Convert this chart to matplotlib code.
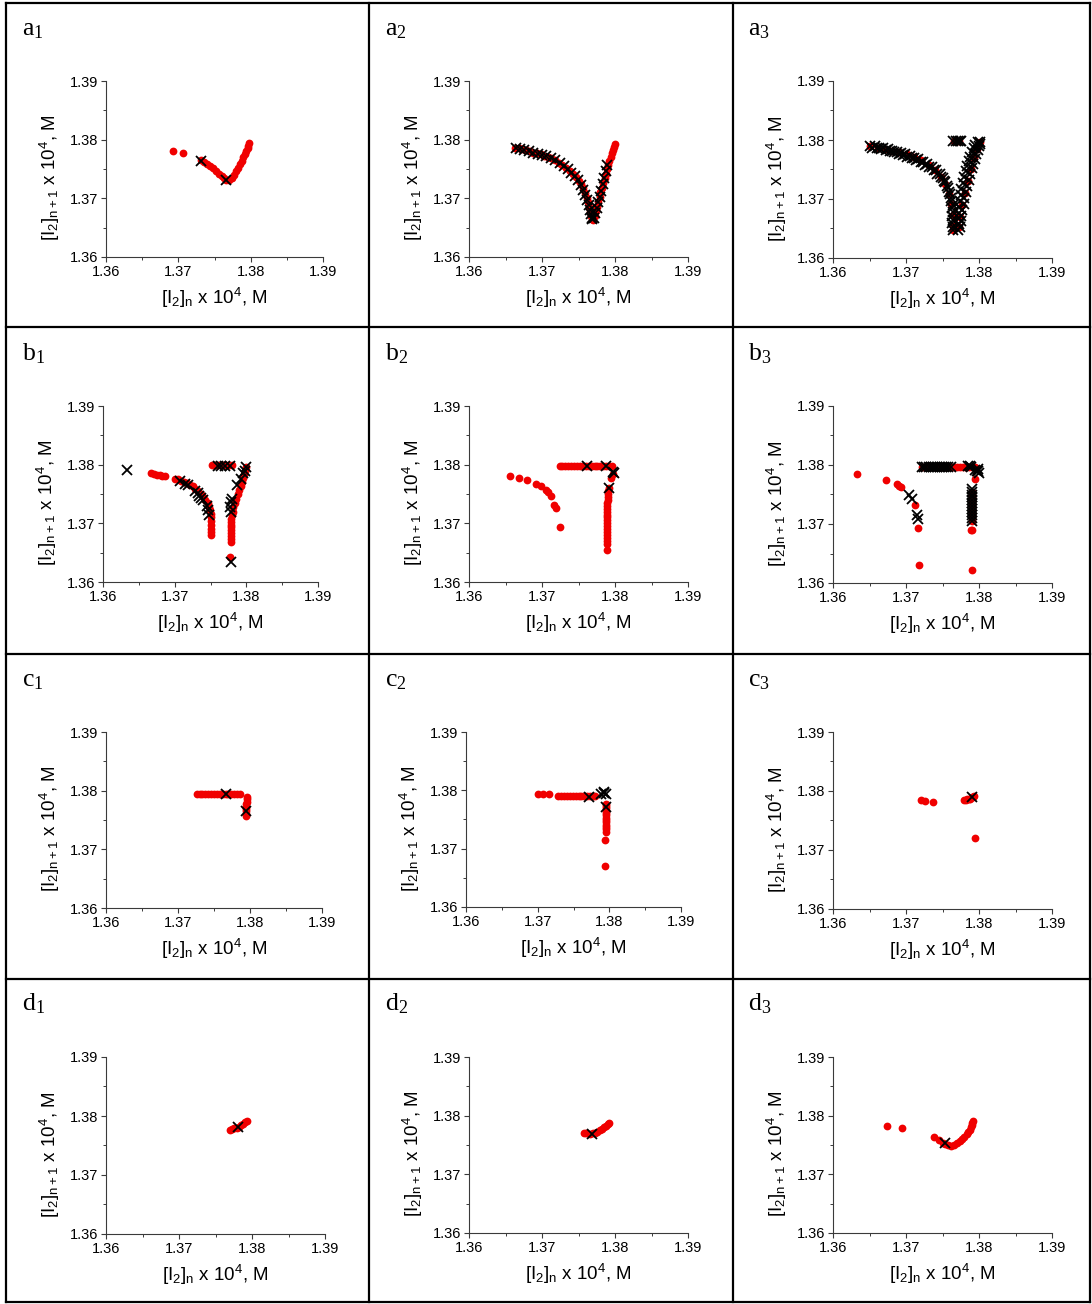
import matplotlib
matplotlib.use('Agg')
import matplotlib.pyplot as plt
from matplotlib.lines import Line2D
from matplotlib.ticker import MultipleLocator, FormatStrFormatter

plt.rcParams['font.family'] = 'Liberation Sans'
plt.rcParams['mathtext.default'] = 'regular'

# ---------------- data ----------------
# a1
a1_red_x = [1.3692, 1.3706, 1.3732, 1.3736, 1.3740, 1.3744, 1.3748, 1.3752, 1.3756, 1.3760, 1.3763, 1.3766,
            1.3770, 1.3774, 1.3777, 1.3780, 1.3783, 1.3785, 1.3788, 1.3790, 1.3792, 1.3794, 1.3796, 1.3797, 1.3798]
a1_red_y = [1.3781, 1.3777, 1.3765, 1.3762, 1.3759, 1.3755, 1.3751, 1.3747, 1.3742, 1.3738, 1.3734, 1.3731,
            1.3731, 1.3735, 1.3740, 1.3746, 1.3752, 1.3758, 1.3764, 1.3770, 1.3775, 1.3780, 1.3785, 1.3789, 1.3794]
a1_cross_x = [1.3732, 1.3766]
a1_cross_y = [1.3764, 1.3731]

# a2
a2_red_x = [1.3663, 1.3668, 1.3673, 1.3678, 1.3683, 1.3688, 1.3693, 1.3698, 1.3703, 1.3708, 1.3713, 1.3718,
            1.3723, 1.3728, 1.3733, 1.3738, 1.3742, 1.3746, 1.3750, 1.3753, 1.3756, 1.3759, 1.3761, 1.3763,
            1.3765, 1.3766, 1.3767, 1.3768,
            1.3770, 1.3772, 1.3774, 1.3776, 1.3777, 1.3779, 1.3780, 1.3782, 1.3784, 1.3786, 1.3787, 1.3789,
            1.3790, 1.3792, 1.3794, 1.3796, 1.3797, 1.3798, 1.3800]
a2_red_y = [1.3786, 1.3785, 1.3784, 1.3782, 1.3780, 1.3778, 1.3777, 1.3775, 1.3773, 1.3771, 1.3768, 1.3765,
            1.3761, 1.3757, 1.3752, 1.3747, 1.3742, 1.3736, 1.3730, 1.3724, 1.3717, 1.3709, 1.3701, 1.3693,
            1.3685, 1.3677, 1.3670, 1.3664,
            1.3663, 1.3670, 1.3678, 1.3686, 1.3694, 1.3702, 1.3710, 1.3718, 1.3726, 1.3734, 1.3742, 1.3750,
            1.3757, 1.3764, 1.3771, 1.3778, 1.3783, 1.3788, 1.3793]
a2_cross_x = [1.3664, 1.3670, 1.3676, 1.3682, 1.3688, 1.3694, 1.3700, 1.3706, 1.3712, 1.3718, 1.3724, 1.3730,
              1.3735, 1.3740, 1.3745, 1.3749, 1.3753, 1.3756, 1.3759, 1.3762, 1.3764, 1.3766, 1.3767, 1.3768,
              1.3769,
              1.3771, 1.3773, 1.3775, 1.3777, 1.3779, 1.3781, 1.3783, 1.3785, 1.3787, 1.3789]
a2_cross_y = [1.3786, 1.3784, 1.3782, 1.3780, 1.3778, 1.3776, 1.3774, 1.3772, 1.3769, 1.3765, 1.3760, 1.3755,
              1.3750, 1.3744, 1.3738, 1.3731, 1.3723, 1.3715, 1.3706, 1.3697, 1.3688, 1.3680, 1.3673, 1.3667,
              1.3664,
              1.3666, 1.3675, 1.3684, 1.3693, 1.3703, 1.3713, 1.3724, 1.3735, 1.3746, 1.3757]

# a3
a3_red_x = [1.3651, 1.3661, 1.3671, 1.3681, 1.3691, 1.3701, 1.3711, 1.3721, 1.3731, 1.3740, 1.3748, 1.3754,
            1.3759, 1.3762, 1.3764, 1.3764, 1.3764,
            1.3772, 1.3774, 1.3777, 1.3781, 1.3785, 1.3789, 1.3793, 1.3797, 1.3801,
            1.3766, 1.3772]
a3_red_y = [1.3789, 1.3787, 1.3785, 1.3782, 1.3779, 1.3776, 1.3772, 1.3766, 1.3758, 1.3749, 1.3738, 1.3725,
            1.3709, 1.3691, 1.3673, 1.3655, 1.3648,
            1.3652, 1.3670, 1.3690, 1.3710, 1.3730, 1.3750, 1.3770, 1.3785, 1.3797,
            1.3798, 1.3798]
a3_cross_x = [1.3651, 1.3654, 1.3657, 1.3660, 1.3663, 1.3666, 1.3669, 1.3672, 1.3675, 1.3678, 1.3681, 1.3684,
              1.3687, 1.3690, 1.3693, 1.3696, 1.3699, 1.3702, 1.3705, 1.3708, 1.3711, 1.3714, 1.3717, 1.3720,
              1.3723, 1.3726, 1.3729, 1.3732, 1.3735, 1.3738, 1.3741, 1.3743, 1.3746, 1.3748, 1.3750, 1.3752,
              1.3754, 1.3756, 1.3757, 1.3759, 1.3760, 1.3762, 1.3762, 1.3764, 1.3763, 1.3765, 1.3763, 1.3765,
              1.3763, 1.3765, 1.3764,
              1.3771, 1.3774, 1.3772, 1.3775, 1.3772, 1.3776, 1.3773, 1.3777, 1.3773, 1.3779, 1.3774, 1.3780,
              1.3775, 1.3782, 1.3776, 1.3784, 1.3778, 1.3786, 1.3780, 1.3788, 1.3782, 1.3790, 1.3784, 1.3792,
              1.3786, 1.3794, 1.3788, 1.3796, 1.3790, 1.3798, 1.3793, 1.3800, 1.3795, 1.3801, 1.3798, 1.3802,
              1.3765, 1.3768, 1.3771, 1.3774, 1.3776]
a3_cross_y = [1.3789, 1.3787, 1.3789, 1.3786, 1.3787, 1.3785, 1.3786, 1.3783, 1.3784, 1.3781, 1.3782, 1.3779,
              1.3780, 1.3777, 1.3778, 1.3775, 1.3776, 1.3772, 1.3773, 1.3769, 1.3770, 1.3766, 1.3767, 1.3762,
              1.3763, 1.3758, 1.3759, 1.3754, 1.3754, 1.3749, 1.3749, 1.3743, 1.3743, 1.3737, 1.3736, 1.3730,
              1.3728, 1.3722, 1.3719, 1.3712, 1.3708, 1.3701, 1.3697, 1.3690, 1.3685, 1.3678, 1.3672, 1.3665,
              1.3659, 1.3652, 1.3647,
              1.3647, 1.3652, 1.3657, 1.3662, 1.3667, 1.3672, 1.3677, 1.3682, 1.3687, 1.3692, 1.3697, 1.3702,
              1.3707, 1.3712, 1.3717, 1.3722, 1.3727, 1.3732, 1.3737, 1.3742, 1.3747, 1.3752, 1.3756, 1.3760,
              1.3764, 1.3768, 1.3772, 1.3776, 1.3780, 1.3783, 1.3786, 1.3789, 1.3791, 1.3793, 1.3796, 1.3797,
              1.3798, 1.3798, 1.3798, 1.3798, 1.3798]

# b1
b1_red_x = [1.3667, 1.3671, 1.3675, 1.3679, 1.3683, 1.3687, 1.3701, 1.3705, 1.3709, 1.3713, 1.3717, 1.3721,
            1.3725, 1.3729, 1.3733, 1.3737, 1.3740, 1.3743, 1.3746, 1.3748, 1.3749, 1.3750, 1.3750, 1.3750,
            1.3750, 1.3751, 1.3751, 1.3751,
            1.3777, 1.3778, 1.3778, 1.3778, 1.3778, 1.3778, 1.3778, 1.3779, 1.3779, 1.3779, 1.3780, 1.3781,
            1.3782, 1.3784, 1.3786, 1.3788, 1.3790, 1.3792, 1.3794, 1.3796, 1.3797, 1.3798, 1.3800,
            1.3752, 1.3756, 1.3760, 1.3764, 1.3768, 1.3772, 1.3776, 1.3780]
b1_red_y = [1.3786, 1.3784, 1.3783, 1.3782, 1.3781, 1.3780, 1.3776, 1.3775, 1.3773, 1.3771, 1.3769, 1.3766,
            1.3763, 1.3759, 1.3755, 1.3750, 1.3745, 1.3740, 1.3734, 1.3728, 1.3722, 1.3716, 1.3710, 1.3704,
            1.3698, 1.3690, 1.3685, 1.3680,
            1.3642, 1.3668, 1.3673, 1.3678, 1.3683, 1.3688, 1.3693, 1.3698, 1.3703, 1.3708, 1.3714, 1.3720,
            1.3727, 1.3734, 1.3742, 1.3750, 1.3757, 1.3764, 1.3771, 1.3778, 1.3784, 1.3790, 1.3796,
            1.3799, 1.3799, 1.3799, 1.3799, 1.3799, 1.3799, 1.3799, 1.3799]
b1_cross_x = [1.3634, 1.3778,
              1.3707, 1.3715, 1.3719, 1.3728, 1.3732, 1.3734, 1.3737, 1.3740, 1.3745, 1.3747, 1.3748,
              1.3778, 1.3779, 1.3780, 1.3787, 1.3792, 1.3795, 1.3798, 1.3799, 1.3777,
              1.3760, 1.3765, 1.3770, 1.3777]
b1_cross_y = [1.3791, 1.3634,
              1.3772, 1.3767, 1.3765, 1.3755, 1.3752, 1.3747, 1.3744, 1.3740, 1.3730, 1.3722, 1.3714,
              1.3720, 1.3737, 1.3742, 1.3765, 1.3776, 1.3785, 1.3789, 1.3796, 1.3728,
              1.3798, 1.3798, 1.3798, 1.3798]

# b2
b2_red_x = [1.3656, 1.3668, 1.3679, 1.3692, 1.3699, 1.3705, 1.3708, 1.3713, 1.3717, 1.3719, 1.3724,
            1.3724, 1.3728, 1.3732, 1.3736, 1.3740, 1.3744, 1.3748, 1.3752, 1.3756, 1.3760, 1.3764, 1.3768,
            1.3772, 1.3776, 1.3780, 1.3784, 1.3788, 1.3792, 1.3796,
            1.3789, 1.3789, 1.3789, 1.3789, 1.3789, 1.3789, 1.3789, 1.3789, 1.3789, 1.3789, 1.3789, 1.3789,
            1.3789, 1.3789, 1.3789, 1.3789, 1.3790, 1.3790, 1.3791, 1.3791, 1.3792, 1.3795, 1.3797]
b2_red_y = [1.3781, 1.3777, 1.3774, 1.3767, 1.3763, 1.3757, 1.3753, 1.3746, 1.3731, 1.3726, 1.3693,
            1.3797, 1.3797, 1.3797, 1.3797, 1.3797, 1.3797, 1.3797, 1.3797, 1.3797, 1.3797, 1.3797, 1.3797,
            1.3797, 1.3797, 1.3797, 1.3797, 1.3797, 1.3797, 1.3797,
            1.3655, 1.3665, 1.3670, 1.3675, 1.3680, 1.3685, 1.3690, 1.3695, 1.3700, 1.3705, 1.3710, 1.3715,
            1.3720, 1.3725, 1.3730, 1.3735, 1.3740, 1.3745, 1.3750, 1.3755, 1.3760, 1.3777, 1.3784]
b2_cross_x = [1.3761, 1.3787, 1.3797, 1.3798, 1.3792]
b2_cross_y = [1.3797, 1.3798, 1.3788, 1.3785, 1.3760]

# b3
b3_red_x = [1.3633, 1.3673, 1.3687, 1.3690, 1.3693, 1.3712, 1.3717, 1.3718,
            1.3722, 1.3726, 1.3730, 1.3734, 1.3738, 1.3742, 1.3746, 1.3750, 1.3754, 1.3758, 1.3762, 1.3766,
            1.3770, 1.3774, 1.3778, 1.3782, 1.3786, 1.3790, 1.3794,
            1.3790, 1.3790, 1.3790, 1.3790, 1.3790, 1.3790, 1.3790, 1.3790, 1.3790, 1.3790, 1.3790,
            1.3790, 1.3789, 1.3790, 1.3794]
b3_red_y = [1.3784, 1.3774, 1.3767, 1.3765, 1.3762, 1.3733, 1.3693, 1.3631,
            1.3797, 1.3797, 1.3797, 1.3797, 1.3797, 1.3797, 1.3797, 1.3797, 1.3797, 1.3797, 1.3797, 1.3797,
            1.3797, 1.3797, 1.3797, 1.3797, 1.3797, 1.3797, 1.3797,
            1.3705, 1.3710, 1.3715, 1.3720, 1.3725, 1.3730, 1.3735, 1.3740, 1.3745, 1.3750, 1.3755,
            1.3690, 1.3689, 1.3622, 1.3776]
b3_cross_x = [1.3704, 1.3708, 1.3715, 1.3716,
              1.3722, 1.3725, 1.3728, 1.3731, 1.3734, 1.3737, 1.3740, 1.3743, 1.3746, 1.3749, 1.3752, 1.3755,
              1.3758, 1.3761, 1.3785, 1.3787, 1.3789,
              1.3795, 1.3797, 1.3799, 1.3800, 1.3798,
              1.3790, 1.3790, 1.3790, 1.3790, 1.3790, 1.3790, 1.3790, 1.3790, 1.3790, 1.3790, 1.3790, 1.3790]
b3_cross_y = [1.3749, 1.3742, 1.3715, 1.3709,
              1.3797, 1.3797, 1.3797, 1.3797, 1.3797, 1.3797, 1.3797, 1.3797, 1.3797, 1.3797, 1.3797, 1.3797,
              1.3797, 1.3797, 1.3798, 1.3798, 1.3797,
              1.3792, 1.3789, 1.3790, 1.3787, 1.3794,
              1.3705, 1.3710, 1.3715, 1.3720, 1.3725, 1.3730, 1.3735, 1.3740, 1.3745, 1.3750, 1.3755, 1.3760]

# c1
c1_red_x = [1.3726, 1.3730, 1.3734, 1.3738, 1.3742, 1.3746, 1.3750, 1.3754, 1.3758, 1.3762, 1.3766, 1.3770,
            1.3774, 1.3778, 1.3782, 1.3786,
            1.3795, 1.3795, 1.3795, 1.3795, 1.3795, 1.3795, 1.3796, 1.3796, 1.3796]
c1_red_y = [1.3795, 1.3795, 1.3795, 1.3795, 1.3795, 1.3795, 1.3795, 1.3795, 1.3795, 1.3794, 1.3794, 1.3794,
            1.3794, 1.3794, 1.3794, 1.3794,
            1.3757, 1.3761, 1.3765, 1.3769, 1.3773, 1.3777, 1.3781, 1.3785, 1.3789]
c1_cross_x = [1.3766, 1.3794]
c1_cross_y = [1.3794, 1.3766]

# c2
c2_red_x = [1.3701, 1.3708, 1.3716,
            1.3729, 1.3733, 1.3737, 1.3741, 1.3745, 1.3749, 1.3753, 1.3757, 1.3761, 1.3765, 1.3769, 1.3773,
            1.3777, 1.3780,
            1.3795, 1.3795, 1.3795, 1.3795, 1.3795, 1.3795, 1.3795, 1.3795, 1.3795, 1.3795, 1.3795, 1.3795,
            1.3795, 1.3794, 1.3794]
c2_red_y = [1.3794, 1.3794, 1.3793,
            1.3791, 1.3791, 1.3791, 1.3791, 1.3791, 1.3791, 1.3791, 1.3790, 1.3790, 1.3790, 1.3790, 1.3790,
            1.3790, 1.3790,
            1.3729, 1.3733, 1.3737, 1.3741, 1.3745, 1.3749, 1.3753, 1.3757, 1.3761, 1.3765, 1.3769, 1.3773,
            1.3777, 1.3715, 1.3671]
c2_cross_x = [1.3771, 1.3788, 1.3792, 1.3795, 1.3793, 1.3795]
c2_cross_y = [1.3789, 1.3794, 1.3795, 1.3794, 1.3797, 1.3771]

# c3
c3_red_x = [1.3721, 1.3726, 1.3737, 1.3780, 1.3782, 1.3784, 1.3786, 1.3788, 1.3790, 1.3792, 1.3793, 1.3794]
c3_red_y = [1.3784, 1.3783, 1.3782, 1.3784, 1.3785, 1.3786, 1.3786, 1.3787, 1.3789, 1.3790, 1.3791, 1.3721]
c3_cross_x = [1.3790]
c3_cross_y = [1.3790]

# d1
d1_red_x = [1.3770, 1.3773, 1.3776, 1.3779, 1.3782, 1.3785, 1.3788, 1.3791, 1.3793]
d1_red_y = [1.3777, 1.3778, 1.3779, 1.3780, 1.3782, 1.3784, 1.3786, 1.3789, 1.3791]
d1_cross_x = [1.3781]
d1_cross_y = [1.3781]

# d2
d2_red_x = [1.3757, 1.3760, 1.3766, 1.3770, 1.3773, 1.3776, 1.3779, 1.3782, 1.3785, 1.3788, 1.3790, 1.3792]
d2_red_y = [1.3770, 1.3770, 1.3769, 1.3770, 1.3771, 1.3773, 1.3775, 1.3777, 1.3780, 1.3783, 1.3786, 1.3788]
d2_cross_x = [1.3769]
d2_cross_y = [1.3769]

# d3
d3_red_x = [1.3674, 1.3695, 1.3738, 1.3745, 1.3750, 1.3754, 1.3758, 1.3762, 1.3766, 1.3770, 1.3774, 1.3777,
            1.3780, 1.3783, 1.3785, 1.3787, 1.3789, 1.3790, 1.3791, 1.3792]
d3_red_y = [1.3782, 1.3779, 1.3763, 1.3758, 1.3754, 1.3752, 1.3750, 1.3749, 1.3750, 1.3753, 1.3756, 1.3760,
            1.3764, 1.3768, 1.3772, 1.3776, 1.3780, 1.3784, 1.3788, 1.3791]
d3_cross_x = [1.3753]
d3_cross_y = [1.3754]

ticks = [1.36, 1.37, 1.38, 1.39]
xlabel = r'[I$_2$]$_n$ x 10$^4$, M'
ylabel = r'[I$_2$]$_{n+1}$ x 10$^4$, M'

# ---------------- layout (pixels) ----------------
W, H = 1092, 1304
fig = plt.figure(figsize=(W / 100, H / 100), dpi=100)

panels = [
    ('a', '1', (106, 323, 81, 257), a1_red_x, a1_red_y, a1_cross_x, a1_cross_y),
    ('a', '2', (469, 688, 81, 257), a2_red_x, a2_red_y, a2_cross_x, a2_cross_y),
    ('a', '3', (833, 1052, 81, 258), a3_red_x, a3_red_y, a3_cross_x, a3_cross_y),
    ('b', '1', (103, 318, 406, 582), b1_red_x, b1_red_y, b1_cross_x, b1_cross_y),
    ('b', '2', (469, 688, 406, 582), b2_red_x, b2_red_y, b2_cross_x, b2_cross_y),
    ('b', '3', (833, 1052, 406, 583), b3_red_x, b3_red_y, b3_cross_x, b3_cross_y),
    ('c', '1', (106, 322, 732, 908), c1_red_x, c1_red_y, c1_cross_x, c1_cross_y),
    ('c', '2', (466, 681, 732, 907), c2_red_x, c2_red_y, c2_cross_x, c2_cross_y),
    ('c', '3', (833, 1052, 732, 909), c3_red_x, c3_red_y, c3_cross_x, c3_cross_y),
    ('d', '1', (106, 325, 1057, 1234), d1_red_x, d1_red_y, d1_cross_x, d1_cross_y),
    ('d', '2', (469, 688, 1057, 1233), d2_red_x, d2_red_y, d2_cross_x, d2_cross_y),
    ('d', '3', (833, 1052, 1057, 1233), d3_red_x, d3_red_y, d3_cross_x, d3_cross_y),
]

col_label_x = {'1': 22, '2': 385, '3': 748}
row_label_y = {'a': 35, 'b': 360, 'c': 686, 'd': 1010}

for letter, idx, box, rx, ry, cx, cy in panels:
    l, r, t, b = box
    ax = fig.add_axes([l / W, 1 - b / H, (r - l) / W, (b - t) / H])
    ax.plot(rx, ry, 'o', color='#f00000', ms=5.6, mew=0, zorder=3, clip_on=False)
    ax.plot(cx, cy, 'x', color='black', ms=6.5, mew=1.3, zorder=4, clip_on=False)
    ax.set_xlim(1.36, 1.39)
    ax.set_ylim(1.36, 1.39)
    ax.set_xticks(ticks)
    ax.set_yticks(ticks)
    ax.xaxis.set_minor_locator(MultipleLocator(0.005))
    ax.yaxis.set_minor_locator(MultipleLocator(0.005))
    ax.xaxis.set_major_formatter(FormatStrFormatter('%.2f'))
    ax.yaxis.set_major_formatter(FormatStrFormatter('%.2f'))
    for s in ['top', 'right']:
        ax.spines[s].set_visible(False)
    for s in ['left', 'bottom']:
        ax.spines[s].set_color('#3a3a3a')
        ax.spines[s].set_linewidth(0.8)
    ax.tick_params(which='major', direction='out', length=3.5, width=0.8, color='#3a3a3a',
                   labelsize=10.5, pad=2)
    ax.tick_params(which='minor', direction='out', length=2, width=0.7, color='#3a3a3a')
    ax.set_xlabel(xlabel, fontsize=13.5, labelpad=5)
    ax.set_ylabel(ylabel, fontsize=13.5)
    ax.yaxis.set_label_coords(-44 / (r - l), 0.45)

    fig.text(col_label_x[idx] / W, 1 - row_label_y[letter] / H, letter + '$_{' + idx + '}$',
             family='Liberation Serif', fontsize=18.5, va='baseline', ha='left')

# table grid lines
def fig_line(x0, y0, x1, y1):
    fig.add_artist(Line2D([x0 / W, x1 / W], [1 - y0 / H, 1 - y1 / H], transform=fig.transFigure,
                          color='black', lw=1.6, solid_capstyle='projecting'))

for y in [3, 327, 654, 979, 1302]:
    fig_line(6, y, 1090, y)
for x in [6, 369, 733, 1090]:
    fig_line(x, 3, x, 1302)

fig.savefig('out.png', dpi=100)
